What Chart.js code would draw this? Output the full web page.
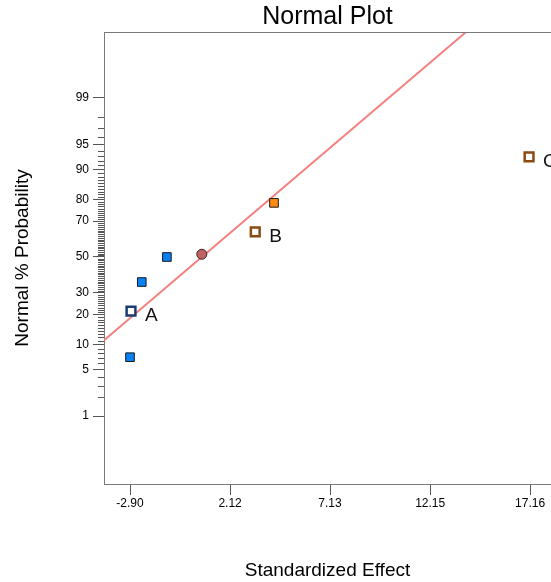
<!DOCTYPE html>
<html>
<head>
<meta charset="utf-8">
<script src="https://cdn.jsdelivr.net/npm/chart.js@4"></script>
<style>
  html, body { margin: 0; padding: 0; background: #fff; }
  #wrap { width: 551px; height: 582px; }
</style>
</head>
<body>
<div id="wrap"><canvas id="normalPlot"></canvas></div>
<script>
// effects, sorted, with their normal % probability
const effectX = [-2.90, -2.85, -2.31, -1.05, 0.70, 3.38, 4.32, 17.11];
const probPct = [7.14, 21.43, 35.71, 50.00, 51.6, 64.29, 78.57, 92.86];
const termNames = ['', 'A', '', '', '', 'B', '', 'C'];
const markKind = ['neg', 'negTerm', 'neg', 'neg', 'center', 'posTerm', 'pos', 'posTerm'];

// reference line ends
const fitLineX = [-4.20, 13.95];
const fitLineP = [11.2, 99.95];

const xTicks = [-2.90, 2.12, 7.13, 12.15, 17.16];
const yTicks = [1, 5, 10, 20, 30, 50, 70, 80, 90, 95, 99];

const FONT = "'Liberation Sans', Arial, Helvetica, sans-serif";
const AXIS_GREY = '#7a7a7a';
const TICK_GREY = '#555';

const kindStyle = {
  neg:     { shape: 'rect',   r: 6.1, fill: '#0a80f5', line: '#1a1a1a', w: 1 },
  negTerm: { shape: 'rect',   r: 6.2, fill: '#ffffff', line: '#1c3c70', w: 2.5 },
  pos:     { shape: 'rect',   r: 6.1, fill: '#ff8a10', line: '#1a1a1a', w: 1 },
  posTerm: { shape: 'rect',   r: 6.2, fill: '#ffffff', line: '#8a4a10', w: 2.5 },
  center:  { shape: 'circle', r: 5,   fill: '#c06262', line: '#3a2020', w: 1 }
};

// inverse normal CDF (Acklam)
function probit(p) {
  const a = [-39.69683028665376, 220.9460984245205, -275.9285104469687, 138.3577518672690, -30.66479806614716, 2.506628277459239];
  const b = [-54.47609879822406, 161.5858368580409, -155.6989798598866, 66.80131188771972, -13.28068155288572];
  const c = [-7.784894002430293e-03, -0.3223964580411365, -2.400758277161838, -2.549732539343734, 4.374664141464968, 2.938163982698783];
  const d = [7.784695709041462e-03, 0.3224671290700398, 2.445134137142996, 3.754408661907416];
  const pl = 0.02425;
  let q, r;
  if (p < pl) {
    q = Math.sqrt(-2 * Math.log(p));
    return (((((c[0]*q+c[1])*q+c[2])*q+c[3])*q+c[4])*q+c[5]) / ((((d[0]*q+d[1])*q+d[2])*q+d[3])*q+1);
  }
  if (p > 1 - pl) {
    q = Math.sqrt(-2 * Math.log(1 - p));
    return -(((((c[0]*q+c[1])*q+c[2])*q+c[3])*q+c[4])*q+c[5]) / ((((d[0]*q+d[1])*q+d[2])*q+d[3])*q+1);
  }
  q = p - 0.5; r = q * q;
  return (((((a[0]*r+a[1])*r+a[2])*r+a[3])*r+a[4])*r+a[5])*q / (((((b[0]*r+b[1])*r+b[2])*r+b[3])*r+b[4])*r+1);
}

function normCdf(z) {
  const t = 1 / (1 + 0.2316419 * Math.abs(z));
  const poly = t * (0.319381530 + t * (-0.356563782 + t * (1.781477937 + t * (-1.821255978 + t * 1.330274429))));
  const v = 1 - Math.exp(-z * z / 2) / Math.sqrt(2 * Math.PI) * poly;
  return z >= 0 ? v : 1 - v;
}

// normal probability axis: values in %, spaced by their z score
class ProbitScale extends Chart.Scale {
  determineDataLimits() {
    this.min = this.options.min;
    this.max = this.options.max;
  }
  buildTicks() {
    return yTicks.map(v => ({ value: v }));
  }
  getLabelForValue(v) { return String(v); }
  configure() {
    super.configure();
    this._zLo = probit(this.min / 100);
    this._zHi = probit(this.max / 100);
  }
  getPixelForValue(v) {
    return this.getPixelForDecimal((probit(v / 100) - this._zLo) / (this._zHi - this._zLo));
  }
  getValueForPixel(px) {
    return 100 * normCdf(this._zLo + this.getDecimalForPixel(px) * (this._zHi - this._zLo));
  }
}
ProbitScale.id = 'probit';
ProbitScale.defaults = {};
Chart.register(ProbitScale);

const minorTicks = {
  id: 'minorTicks',
  afterDraw(chart) {
    const y = chart.scales.y;
    const ctx = chart.ctx;
    ctx.save();
    ctx.strokeStyle = TICK_GREY;
    ctx.lineWidth = 1;
    ctx.beginPath();
    for (let p = 1; p <= 99; p++) {
      if (yTicks.includes(p)) continue;
      const py = Math.round(y.getPixelForValue(p)) + 0.5;
      ctx.moveTo(y.right - 6, py);
      ctx.lineTo(y.right, py);
    }
    ctx.stroke();
    // top edge of the frame
    const area = chart.chartArea;
    ctx.strokeStyle = AXIS_GREY;
    ctx.beginPath();
    ctx.moveTo(area.left, area.top + 0.5);
    ctx.lineTo(area.right, area.top + 0.5);
    ctx.stroke();
    ctx.restore();
  }
};

const termLabels = {
  id: 'termLabels',
  afterDatasetsDraw(chart) {
    const meta = chart.getDatasetMeta(0);
    const ctx = chart.ctx;
    ctx.save();
    ctx.font = '19px ' + FONT;
    ctx.fillStyle = '#111';
    ctx.textAlign = 'left';
    ctx.textBaseline = 'middle';
    meta.data.forEach((pt, i) => {
      if (termNames[i]) ctx.fillText(termNames[i], pt.x + 14, pt.y + 5);
    });
    ctx.restore();
  }
};

const points = effectX.map((x, i) => ({ x: x, y: probPct[i] }));
const line = fitLineX.map((x, i) => ({ x: x, y: fitLineP[i] }));

new Chart(document.getElementById('normalPlot'), {
  type: 'scatter',
  data: {
    datasets: [{
      data: points,
      pointStyle: markKind.map(k => kindStyle[k].shape),
      pointRadius: markKind.map(k => kindStyle[k].r),
      backgroundColor: markKind.map(k => kindStyle[k].fill),
      borderColor: markKind.map(k => kindStyle[k].line),
      borderWidth: markKind.map(k => kindStyle[k].w)
    }, {
      type: 'line',
      data: line,
      borderColor: '#f58080',
      borderWidth: 2,
      pointRadius: 0,
      fill: false
    }]
  },
  options: {
    responsive: true,
    maintainAspectRatio: false,
    animation: false,
    events: [],
    layout: { padding: 0, autoPadding: false },
    plugins: {
      legend: { display: false },
      tooltip: { enabled: false },
      title: {
        display: true,
        text: 'Normal Plot',
        fullSize: false,
        color: '#000',
        font: { family: FONT, size: 25, weight: 'normal' },
        padding: { top: 2, bottom: 0 }
      }
    },
    scales: {
      x: {
        type: 'linear',
        min: -4.204,
        max: 18.21,
        afterBuildTicks: s => { s.ticks = xTicks.map(v => ({ value: v })); },
        afterFit: s => { s.height = 98; },
        grid: { drawOnChartArea: false, tickLength: 11, tickColor: TICK_GREY },
        border: { color: AXIS_GREY },
        ticks: {
          color: '#000',
          padding: 1,
          maxRotation: 0,
          autoSkip: false,
          font: { family: FONT, size: 12 },
          callback: v => v.toFixed(2)
        },
        title: {
          display: true,
          text: 'Standardized Effect',
          color: '#000',
          font: { family: FONT, size: 19 },
          padding: { top: 0, bottom: 0 }
        }
      },
      y: {
        type: 'probit',
        min: 0.045,
        max: 99.95,
        afterFit: s => { s.width = 104; },
        grid: { drawOnChartArea: false, tickLength: 11, tickColor: TICK_GREY },
        border: { color: AXIS_GREY },
        ticks: {
          color: '#000',
          padding: 4,
          autoSkip: false,
          font: { family: FONT, size: 12 }
        },
        title: {
          display: true,
          text: 'Normal % Probability',
          color: '#000',
          font: { family: FONT, size: 19 },
          padding: { top: 11, bottom: 0 }
        }
      }
    }
  },
  plugins: [minorTicks, termLabels]
});
</script>
</body>
</html>
